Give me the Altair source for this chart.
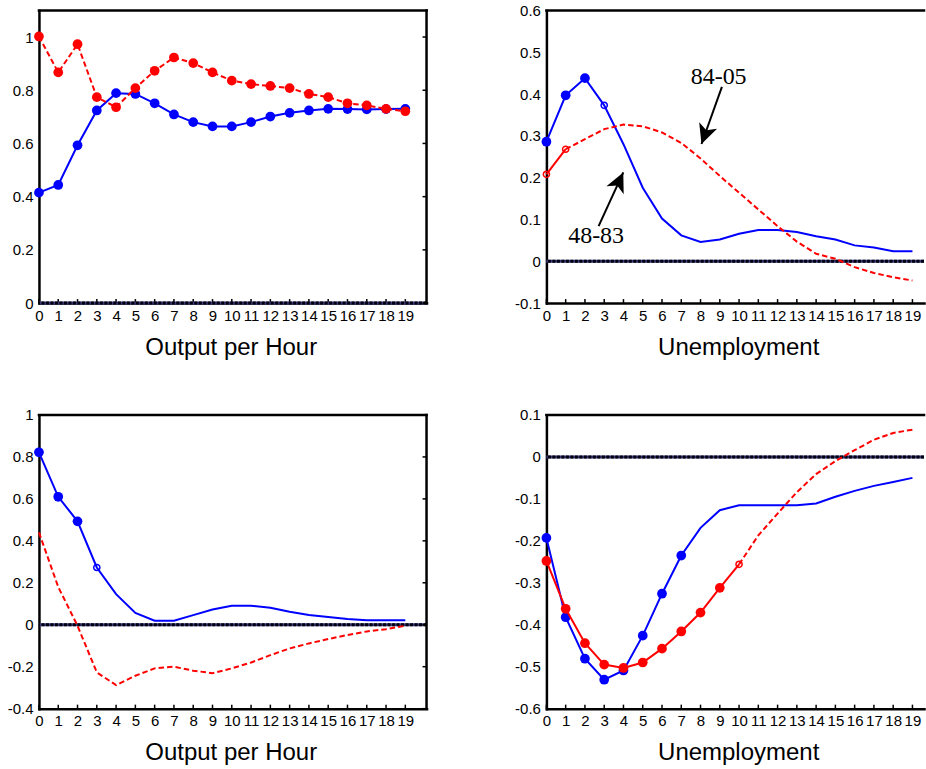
import math
import altair as alt
import pandas as pd

# ---- data -------------------------------------------------------------
steps = list(range(20))

# Output per hour, upper panel
oph_top_blue = [0.415, 0.444, 0.593, 0.724, 0.789, 0.786, 0.751, 0.709, 0.680, 0.664,
                0.664, 0.680, 0.701, 0.715, 0.724, 0.730, 0.729, 0.728, 0.729, 0.730]
oph_top_red = [1.002, 0.867, 0.973, 0.774, 0.736, 0.808, 0.873, 0.923, 0.902, 0.867,
               0.836, 0.823, 0.816, 0.808, 0.786, 0.774, 0.751, 0.743, 0.730, 0.721]

# Unemployment, upper panel
une_top_blue = [0.286, 0.397, 0.438, 0.373, 0.280, 0.176, 0.102, 0.062, 0.046, 0.052,
                0.066, 0.075, 0.075, 0.070, 0.060, 0.052, 0.038, 0.033, 0.024, 0.024]
une_top_red = [0.208, 0.268, 0.292, 0.316, 0.327, 0.323, 0.308, 0.283, 0.246, 0.204,
               0.164, 0.124, 0.084, 0.047, 0.018, 0.006, -0.014, -0.028, -0.038, -0.046]

# Output per hour, lower panel
oph_bot_blue = [0.822, 0.610, 0.493, 0.273, 0.146, 0.056, 0.019, 0.019, 0.046, 0.073,
                0.091, 0.091, 0.081, 0.062, 0.046, 0.037, 0.027, 0.021, 0.021, 0.021]
oph_bot_red = [0.440, 0.180, -0.005, -0.227, -0.288, -0.243, -0.208, -0.200, -0.219, -0.231,
               -0.208, -0.180, -0.145, -0.113, -0.089, -0.068, -0.049, -0.032, -0.021, -0.005]

# Unemployment, lower panel
une_bot_blue = [-0.193, -0.382, -0.481, -0.531, -0.509, -0.426, -0.326, -0.235, -0.169, -0.127,
                -0.115, -0.115, -0.115, -0.115, -0.111, -0.095, -0.081, -0.069, -0.060, -0.050]
une_bot_red = [-0.248, -0.362, -0.444, -0.495, -0.503, -0.490, -0.457, -0.416, -0.371, -0.312,
               -0.256, -0.187, -0.135, -0.084, -0.041, -0.010, 0.016, 0.041, 0.057, 0.065]

# y tick values per panel
ticks_oph_top = [0, 0.2, 0.4, 0.6, 0.8, 1]
ticks_une_top = [-0.1, 0, 0.1, 0.2, 0.3, 0.4, 0.5, 0.6]
ticks_oph_bot = [-0.4, -0.2, 0, 0.2, 0.4, 0.6, 0.8, 1]
ticks_une_bot = [-0.6, -0.5, -0.4, -0.3, -0.2, -0.1, 0, 0.1]

# sample-period labels with their arrows (data units of the upper unemployment panel)
note_labels = ["84-05", "48-83"]
note_x = [8.94, 2.58]
note_y = [0.441, 0.060]
arrow_from_x = [9.11, 2.71]
arrow_from_y = [0.417, 0.084]
arrow_to_x = [8.05, 3.99]
arrow_to_y = [0.2805, 0.2125]

# ---- styling ----------------------------------------------------------
BLUE = "#0000ff"
RED = "#ff0000"
SANS = "Liberation Sans"
SERIF = "Liberation Serif"
DASH = [5.5, 3]
FRAME_W = 2.5
HEAD = "M0,0L0.95,1.97L0,1.45L-0.95,1.97Z"  # arrowhead, tip at the origin


def axis_x(title):
    return alt.Axis(values=steps, title=title, titleFont=SANS, titleFontSize=24,
                    titleFontWeight="normal", titleColor="black", titlePadding=12, titleX=192,
                    labelFont=SANS, labelFontSize=15, labelColor="black", labelFlush=False,
                    labelOverlap=False, labelPadding=5, ticks=False, tickSize=0,
                    domainColor="black", domainWidth=FRAME_W, domainCap="square", grid=False)


def axis_y(values):
    return alt.Axis(values=values, title=None, labelExpr="toString(datum.value)",
                    labelFont=SANS, labelFontSize=15, labelColor="black", labelPadding=6,
                    labelOverlap=False, ticks=False, tickSize=0,
                    domainColor="black", domainWidth=FRAME_W, domainCap="square", grid=False)


def one_row():
    return pd.DataFrame({"k": [0]})


def panel(title, blue, red, ydom, yvals, xmax, width, height,
          blue_filled, blue_open, red_filled, red_open, red_solid_until,
          right_edge, notes=False):
    xs = alt.Scale(domain=[0, xmax], nice=False, zero=False)
    ys = alt.Scale(domain=ydom, nice=False, zero=False)
    ax = axis_x(title)
    ay = axis_y(yvals)

    def X(f):
        return alt.X(f"{f}:Q", scale=xs, axis=ax)

    def Y(f):
        return alt.Y(f"{f}:Q", scale=ys, axis=ay)

    df_b = pd.DataFrame({"t": steps, "v": blue})
    df_r = pd.DataFrame({"t": steps, "v": red})
    layers = []

    # inward ticks along the bottom edge
    layers.append(alt.Chart(pd.DataFrame({"t": steps})).mark_rule(color="black", strokeWidth=1.5)
                  .encode(x=X("t"), y=alt.value(height - 4), y2=alt.value(height)))

    # zero line: dotted dark rule
    zero = pd.DataFrame({"v": [0]})
    layers.append(alt.Chart(zero).mark_rule(color="#3a3a78", strokeWidth=3).encode(y=Y("v")))
    layers.append(alt.Chart(zero).mark_rule(color="#000010", strokeWidth=3, strokeDash=[3, 1.5])
                  .encode(y=Y("v")))

    # blue response
    layers.append(alt.Chart(df_b).mark_line(color=BLUE, strokeWidth=2).encode(x=X("t"), y=Y("v")))
    if blue_filled:
        layers.append(alt.Chart(df_b.iloc[blue_filled]).mark_point(
            shape="circle", filled=True, size=95, color=BLUE, opacity=1).encode(x=X("t"), y=Y("v")))
    if blue_open:
        layers.append(alt.Chart(df_b.iloc[blue_open]).mark_point(
            shape="circle", filled=False, size=38, strokeWidth=1.5, color=BLUE, opacity=1)
            .encode(x=X("t"), y=Y("v")))

    # red response: solid over the leading stretch, dashed afterwards
    if red_solid_until > 0:
        layers.append(alt.Chart(df_r[df_r.t <= red_solid_until]).mark_line(color=RED, strokeWidth=2)
                      .encode(x=X("t"), y=Y("v")))
        dashed = df_r[df_r.t >= red_solid_until]
    else:
        dashed = df_r
    layers.append(alt.Chart(dashed).mark_line(color=RED, strokeWidth=2, strokeDash=DASH)
                  .encode(x=X("t"), y=Y("v")))
    if red_filled:
        layers.append(alt.Chart(df_r.iloc[red_filled]).mark_point(
            shape="circle", filled=True, size=95, color=RED, opacity=1).encode(x=X("t"), y=Y("v")))
    if red_open:
        layers.append(alt.Chart(df_r.iloc[red_open]).mark_point(
            shape="circle", filled=False, size=38, strokeWidth=1.5, color=RED, opacity=1)
            .encode(x=X("t"), y=Y("v")))

    # frame: top edge, and right edge with inward ticks where it is visible
    layers.append(alt.Chart(one_row()).mark_rule(color="black", strokeWidth=FRAME_W, strokeCap="square")
                  .encode(x=alt.value(0), x2=alt.value(width), y=alt.value(0)))
    if right_edge:
        layers.append(alt.Chart(one_row()).mark_rule(color="black", strokeWidth=FRAME_W, strokeCap="square")
                      .encode(x=alt.value(width), y=alt.value(0), y2=alt.value(height)))
        layers.append(alt.Chart(pd.DataFrame({"v": yvals})).mark_rule(color="black", strokeWidth=1.5)
                      .encode(y=Y("v"), x=alt.value(width - 4), x2=alt.value(width)))

    if notes:
        px_x = width / xmax
        px_y = height / (ydom[1] - ydom[0])
        angles = []
        for x0, y0, x1, y1 in zip(arrow_from_x, arrow_from_y, arrow_to_x, arrow_to_y):
            dx = (x1 - x0) * px_x
            dy = -(y1 - y0) * px_y
            angles.append(math.degrees(math.atan2(dx, -dy)) % 360)
        arrows = pd.DataFrame({"x0": arrow_from_x, "y0": arrow_from_y,
                               "x1": arrow_to_x, "y1": arrow_to_y, "ang": angles})
        layers.append(alt.Chart(arrows).mark_rule(color="black", strokeWidth=2)
                      .encode(x=X("x0"), y=Y("y0"), x2="x1:Q", y2="y1:Q"))
        layers.append(alt.Chart(arrows).mark_point(shape=HEAD, filled=True, size=400,
                                                   color="black", opacity=1, strokeWidth=0)
                      .encode(x=X("x1"), y=Y("y1"), angle=alt.Angle("ang:Q", scale=None)))
        labels = pd.DataFrame({"x": note_x, "y": note_y, "label": note_labels})
        layers.append(alt.Chart(labels).mark_text(font=SERIF, fontSize=24, color="black",
                                                  align="center", baseline="middle")
                      .encode(x=X("x"), y=Y("y"), text="label:N"))

    return alt.layer(*layers).properties(width=width, height=height)


LEFT_W, RIGHT_W = 388, 378
LEFT_X, RIGHT_X = 20.1, 19.6

p1 = panel("Output per Hour", oph_top_blue, oph_top_red, [0, 1.1], ticks_oph_top,
           LEFT_X, LEFT_W, 293, blue_filled=steps, blue_open=[], red_filled=steps,
           red_open=[], red_solid_until=0, right_edge=True)
p2 = panel("Unemployment", une_top_blue, une_top_red, [-0.1, 0.6], ticks_une_top,
           RIGHT_X, RIGHT_W, 293, blue_filled=[0, 1, 2], blue_open=[3], red_filled=[],
           red_open=[0, 1], red_solid_until=1, right_edge=False, notes=True)
p3 = panel("Output per Hour", oph_bot_blue, oph_bot_red, [-0.4, 1], ticks_oph_bot,
           LEFT_X, LEFT_W, 294, blue_filled=[0, 1, 2], blue_open=[3], red_filled=[],
           red_open=[], red_solid_until=0, right_edge=True)
p4 = panel("Unemployment", une_bot_blue, une_bot_red, [-0.6, 0.1], ticks_une_bot,
           RIGHT_X, RIGHT_W, 294, blue_filled=list(range(8)), blue_open=[],
           red_filled=list(range(10)), red_open=[10], red_solid_until=10, right_edge=False)

chart = (
    alt.concat(p1, p2, p3, p4, columns=2, spacing={"row": 112, "column": 120},
               bounds="flush", align="each")
    .properties(padding={"left": 7, "top": 3, "right": 0, "bottom": 0})
    .configure_view(stroke=None)
)

chart.save("out.html", embed_options={"renderer": "svg", "actions": False})
